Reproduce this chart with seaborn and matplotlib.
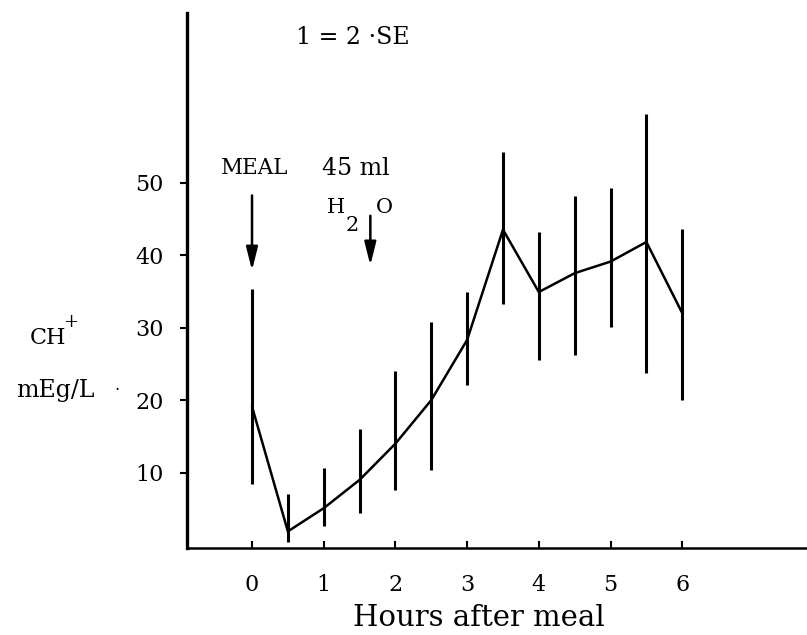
import numpy as np
import pandas as pd
import matplotlib
matplotlib.use("Agg")
import matplotlib.pyplot as plt
import seaborn as sns

# values
hours = [0, 0.5, 1, 1.5, 2, 2.5, 3, 3.5, 4, 4.5, 5, 5.5, 6]
ch_mean = [19.1, 1.9, 5.1, 9.0, 14.0, 20.0, 28.3, 43.5, 34.9, 37.5, 39.1, 41.8, 32.0]
ch_low = [8.5, 0.5, 2.6, 4.4, 7.6, 10.4, 22.1, 33.3, 25.5, 26.2, 30.1, 23.8, 20.0]
ch_high = [35.3, 7.0, 10.7, 16.0, 24.0, 30.8, 34.9, 54.2, 43.2, 48.1, 49.3, 59.5, 43.6]
x_ticks = [0, 1, 2, 3, 4, 5, 6]
y_ticks = [10, 20, 30, 40, 50]

df = pd.DataFrame({"hours": hours, "ch": ch_mean, "low": ch_low, "high": ch_high})

sns.set_style("ticks", {"axes.edgecolor": "black", "text.color": "black",
                        "xtick.color": "black", "ytick.color": "black"})
plt.rcParams['font.family'] = ['DejaVu Serif']

fig = plt.figure(figsize=(8.07, 6.35), dpi=100)
ax = fig.add_axes([0.2317, 0.1370, 0.7683, 0.8425])

# error bars (1 = 2 SE) and the mean line
ax.vlines(df["hours"], df["low"], df["high"], color="black", lw=2.2)
sns.lineplot(data=df, x="hours", y="ch", ax=ax, color="black", lw=1.8,
             sort=False, estimator=None)

ax.set_xlim(-0.907, 7.74)
ax.set_ylim(-0.39, 73.37)
ax.set_xticks(x_ticks)
ax.set_yticks(y_ticks)
ax.tick_params(axis="x", direction="in", length=5, width=1.5, pad=19, labelsize=16)
ax.tick_params(axis="y", direction="out", length=5, width=1.5, pad=12, labelsize=16)
ax.set_xlabel("")
ax.set_ylabel("")
for side in ["top", "right"]:
    ax.spines[side].set_visible(False)
ax.spines["left"].set_linewidth(2.4)
ax.spines["bottom"].set_linewidth(1.8)

# annotations
ax.text(1.41, 69.96, "1 = 2 ·SE", ha="center", va="center", fontsize=17)
ax.text(0.03, 52.0, "MEAL", ha="center", va="center", fontsize=15.5)
ax.text(1.45, 52.0, "45 ml", ha="center", va="center", fontsize=17)
ax.text(1.165, 46.6, "H", ha="center", va="center", fontsize=15)
ax.text(1.40, 44.1, "2", ha="center", va="center", fontsize=15)
ax.text(1.85, 46.6, "O", ha="center", va="center", fontsize=15)
arrow = dict(arrowstyle="-|>,head_length=1.4,head_width=0.35", color="black", lw=1.8)
ax.annotate("", xy=(0.0, 37.5), xytext=(0.0, 48.6), arrowprops=arrow)
ax.annotate("", xy=(1.65, 38.2), xytext=(1.65, 45.8), arrowprops=arrow)

# y label typed beside the axis
fig.text(48 / 807, 1 - 338 / 635, "CH", ha="center", va="center", fontsize=16)
fig.text(71 / 807, 1 - 322 / 635, "+", ha="center", va="center", fontsize=13)
fig.text(55 / 807, 1 - 390 / 635, "mEg/L", ha="center", va="center", fontsize=17)
fig.text(117 / 807, 1 - 390 / 635, "·", ha="center", va="center", fontsize=12)

# x label
fig.text(479 / 807, 1 - 618 / 635, "Hours after meal", ha="center", va="center", fontsize=21)

fig.savefig("out.png", dpi=100)
